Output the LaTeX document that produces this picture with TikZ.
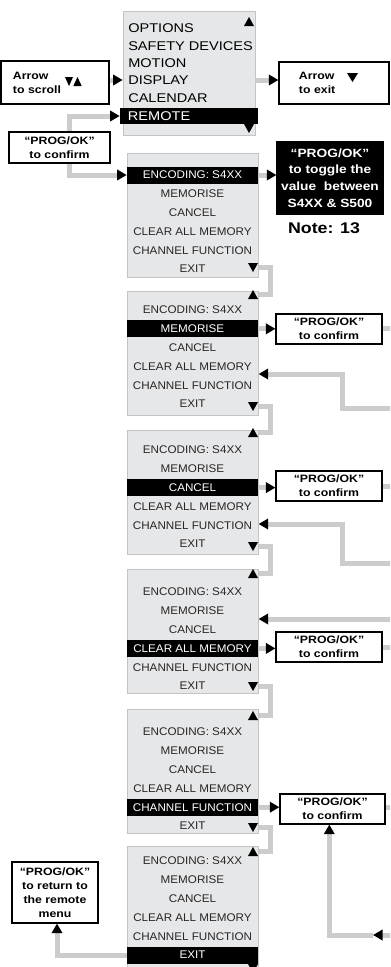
\documentclass[tikz,border=0pt]{standalone}
\usepackage{fontspec}
\setmainfont[FakeStretch=1.15]{Liberation Sans}
\newfontfamily\itemfont[FakeStretch=1.05]{Liberation Sans}
\usetikzlibrary{arrows.meta,calc}
\definecolor{menugrey}{RGB}{230,231,232}
\definecolor{menuedge}{RGB}{196,196,196}
\definecolor{linkgrey}{RGB}{204,204,204}
\definecolor{textdark}{RGB}{40,38,38}

\begin{document}
\begin{tikzpicture}[x=0.025cm, y=-0.025cm,
    menu/.style={rectangle, draw=menuedge, fill=menugrey, line width=0.4pt, inner sep=0pt},
    item/.style={font=\itemfont\fontsize{7.9}{9}\selectfont, text=textdark, inner sep=0pt},
    topitem/.style={font=\fontsize{9}{10}\selectfont, inner sep=0pt, anchor=west},
    selbar/.style={rectangle, fill=black, text=white, minimum width=3.275cm,
        minimum height=0.425cm, inner sep=0pt, font=\itemfont\fontsize{7.9}{9}\selectfont},
    infobox/.style={rectangle, draw=black, line width=0.8pt, fill=white, inner sep=0pt,
        align=center, font=\bfseries\fontsize{7.6}{10}\selectfont},
    link/.style={draw=linkgrey, line width=0.125cm},
    arr/.style={link, -{Triangle[length=0.24cm, width=0.26cm, color=black]}}
]
    \useasboundingbox (0,0) rectangle (390,967);
    \clip (0,0) rectangle (390,967);

    % main menu
    \node[menu, minimum width=3.3cm, minimum height=3.1cm] (main) at (189,73) {};
    \node[topitem] (opt) at (128,28) {OPTIONS};
    \node[topitem] (safe) at (128,46) {SAFETY DEVICES};
    \node[topitem] (motion) at (128,63) {MOTION};
    \node[topitem] (disp) at (128,80) {DISPLAY};
    \node[topitem] (cal) at (128,98) {CALENDAR};
    \node[rectangle, fill=black, text=white, font=\fontsize{9}{10}\selectfont,
        minimum height=0.4cm, text width=3.05cm, inner xsep=0.2cm, inner ysep=0pt,
        align=left] (remote) at (189,116) {REMOTE};
    \fill (249,17) -- (254,26) -- (244,26) -- cycle;
    \fill (244,124) -- (254,124) -- (249,133) -- cycle;

    \node[infobox, minimum width=2.7cm, minimum height=1.075cm, text width=2.1cm,
        inner xsep=0.3cm, align=left] (scroll) at (55,82.5) {Arrow\\to scroll};
    \fill (65,77) -- (73,77) -- (69,86) -- cycle;
    \fill (77.5,77) -- (81.7,86) -- (73.3,86) -- cycle;
    \node[infobox, minimum width=2.75cm, minimum height=1.05cm, text width=1.75cm,
        inner xsep=0.5cm, align=left] (exit) at (334,83) {Arrow\\to exit};
    \fill (347,73) -- (358,73) -- (352.5,82) -- cycle;

    \node[infobox, minimum width=2.525cm, minimum height=0.775cm] (cfm0) at (59.5,147.5)
        {“PROG/OK”\\to confirm};

    % remote sub-menus
    \foreach \k/\ytop/\yfirst/\yup/\ydn in {1/153/175/0/263, 2/291/310/290/402,
        3/430/450/428/542, 4/569/592/569/682, 5/709/732/711/823, 6/846/861/847/964} {
        \node[menu, anchor=north west, minimum width=3.275cm, minimum height=3.1cm]
            (m\k) at (127,\ytop) {};
        \foreach \i/\txt in {1/{ENCODING: S4XX}, 2/MEMORISE, 3/CANCEL,
            4/{CLEAR ALL MEMORY}, 5/{CHANNEL FUNCTION}, 6/EXIT} {
            \ifnum\i=\k
                \node[selbar] (m\k-\i) at (192.5,\yfirst+18.8*\i-18.8) {\txt};
            \else
                \node[item] (m\k-\i) at (192.5,\yfirst+18.8*\i-18.8) {\txt};
            \fi
        }
        \ifnum\k>1
            \fill (253,\yup) -- (258,\yup+9) -- (248,\yup+9) -- cycle;
        \fi
        \fill (248,\ydn) -- (258,\ydn) -- (253,\ydn+9) -- cycle;
        \coordinate (up\k) at (m\k.east |- 0,\yup+4);
        \coordinate (dn\k) at (m\k.east |- 0,\ydn+4);
    }

    \node[infobox, fill=black, text=white, minimum width=2.65cm, minimum height=1.8cm,
        font=\bfseries\fontsize{8.5}{11.9}\selectfont] (toggle) at (330,178)
        {“PROG/OK”\\to toggle the\\value\ \ between\\S4XX \& S500};
    \node[font=\bfseries\fontsize{11}{13}\selectfont, inner sep=0pt] (note) at (324,228) {Note: 13};

    \node[infobox, minimum width=2.65cm, minimum height=0.75cm] (cfm2) at (329,329) {“PROG/OK”\\to confirm};
    \node[infobox, minimum width=2.65cm, minimum height=0.75cm] (cfm3) at (329,486) {“PROG/OK”\\to confirm};
    \node[infobox, minimum width=2.65cm, minimum height=0.75cm] (cfm4) at (329,647) {“PROG/OK”\\to confirm};
    \node[infobox, minimum width=2.625cm, minimum height=0.75cm] (cfm5) at (332.5,809) {“PROG/OK”\\to confirm};
    \node[infobox, minimum width=2.15cm, minimum height=1.525cm] (ret) at (55,892.5)
        {“PROG/OK”\\to return to\\the remote\\menu};

    \coordinate (out2) at (392,328);
    \coordinate (out3) at (392,486);
    \coordinate (out4) at (392,647);
    \coordinate (out5) at (392,807);
    \coordinate (in2) at (392,408.5);
    \coordinate (in3) at (392,563.5);
    \coordinate (in4) at (392,619);
    \coordinate (in5) at (392,935);
    \coordinate (turn5) at (373,935);

    \draw[arr] (scroll.east |- disp) -- (main.west |- disp);
    \draw[arr] (main.east |- disp) -- (exit.west |- disp);
    \draw[arr] ([xshift=0.26cm]cfm0.north) |- (remote.west);
    \draw[arr] ([xshift=0.26cm]cfm0.south) |- (m1-1.west);
    \draw[arr] (m1-1.east) -- (toggle.west |- m1-1);
    \foreach \k in {2,...,5} {
        \draw[arr] (m\k-\k.east) -- (cfm\k.west |- m\k-\k);
        \draw[link] (cfm\k.east |- out\k) -- (out\k);
    }
    \foreach \k/\kk in {1/2, 2/3, 3/4, 4/5, 5/6}
        \draw[link] (dn\k) -- ++(12,0) |- (up\kk);

    \draw[arr] (in2) -- ++(-50,0) |- (m2.east |- 0,374);
    \draw[arr] (in3) -- ++(-50,0) |- (m3.east |- 0,524);
    \draw[arr] (in4) -- (m4.east |- in4);
    \draw[arr] (in5) -- (turn5);
    \draw[arr] (turn5) -| ([xshift=-0.08cm]cfm5.south);
    \draw[arr] (m6-6.west) -| ([xshift=0.05cm]ret.south);
\end{tikzpicture}
\end{document}
